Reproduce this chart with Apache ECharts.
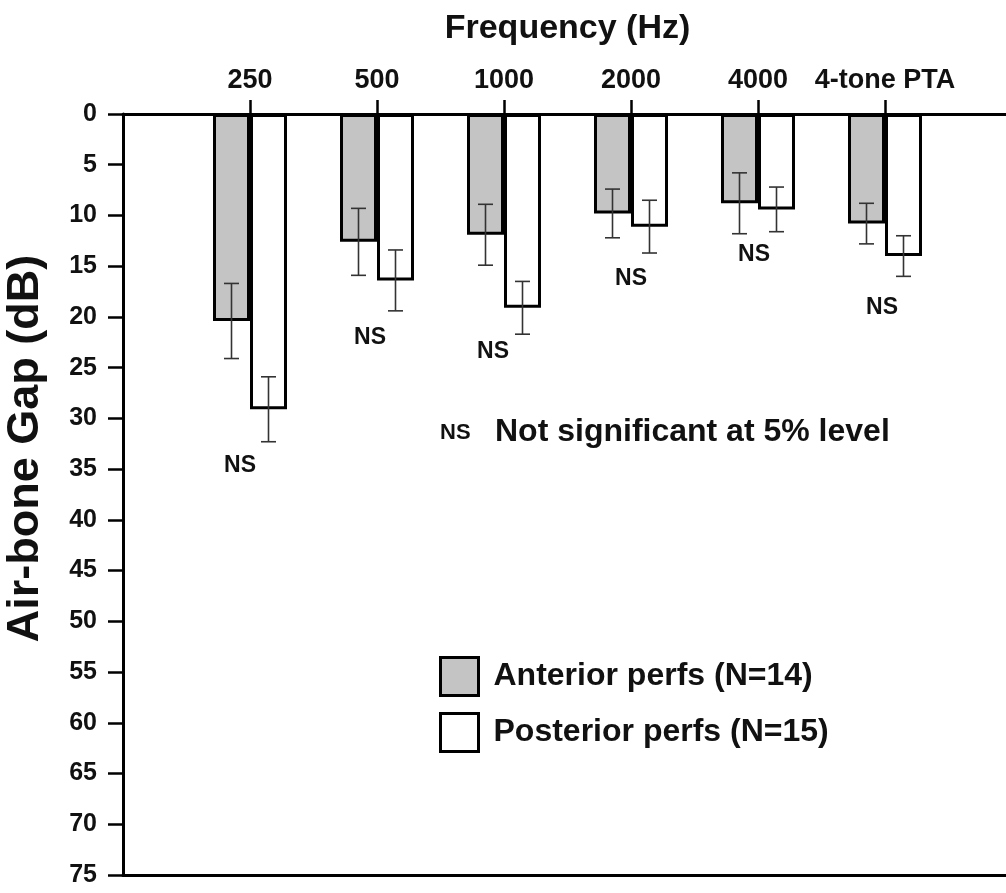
<!DOCTYPE html>
<html>
<head>
<meta charset="utf-8">
<script src="https://cdn.jsdelivr.net/npm/echarts@6/dist/echarts.min.js"></script>
<style>
  html, body { margin: 0; padding: 0; background: #fff; }
  #chart { width: 1006px; height: 893px; }
</style>
</head>
<body>
<div id="chart"></div>
<script>
// ---- data ----
const categories = ['', '250', '500', '1000', '2000', '4000', '4-tone PTA', ''];
const anteriorMean = ['-', 20.4, 12.6, 11.9, 9.8, 8.8, 10.8, '-'];
const anteriorSD   = ['-', 3.7, 3.3, 3.0, 2.4, 3.0, 2.0, '-'];
const posteriorMean = ['-', 29.1, 16.4, 19.1, 11.1, 9.4, 14.0, '-'];
const posteriorSD   = ['-', 3.2, 3.0, 2.6, 2.6, 2.2, 2.0, '-'];
const nsLevel = ['-', 34.7, 22.0, 23.4, 16.2, 13.9, 19.1, '-'];
const yTicks = { min: 0, max: 75, interval: 5 };
const seriesNames = ['Anterior perfs (N=14)', 'Posterior perfs (N=15)'];

// ---- style ----
const FONT = '"Liberation Sans", Arial, sans-serif';
const BAR_W = 37;
const nsDx = [0, -10, -7, -11, 0, -4, -3, 0];

function errorSeries(means, sds, side) {
  const data = [];
  for (let i = 0; i < means.length; i++) {
    if (means[i] === '-') continue;
    data.push([i, means[i], sds[i]]);
  }
  return {
    type: 'custom',
    xAxisIndex: 0,
    yAxisIndex: 0,
    z: 5,
    silent: true,
    data: data,
    renderItem: function (params, api) {
      const i = api.value(0), m = api.value(1), s = api.value(2);
      const top = api.coord([i, m - s]);
      const bot = api.coord([i, m + s]);
      const x = top[0] + side * BAR_W / 2;
      const cap = 7.5;
      const st = { stroke: '#333', lineWidth: 1.6 };
      return {
        type: 'group',
        children: [
          { type: 'line', shape: { x1: x, y1: top[1], x2: x, y2: bot[1] }, style: st },
          { type: 'line', shape: { x1: x - cap, y1: top[1], x2: x + cap, y2: top[1] }, style: st },
          { type: 'line', shape: { x1: x - cap, y1: bot[1], x2: x + cap, y2: bot[1] }, style: st }
        ]
      };
    }
  };
}

const nsData = [];
for (let i = 0; i < nsLevel.length; i++) {
  if (nsLevel[i] !== '-') nsData.push([i, nsLevel[i]]);
}

const chart = echarts.init(document.getElementById('chart'));
chart.setOption({
  animation: false,
  backgroundColor: '#fff',
  grid: { left: 123, top: 114, bottom: 18, width: 889, containLabel: false, outerBoundsMode: 'none' },
  xAxis: [{
    type: 'category',
    position: 'top',
    boundaryGap: false,
    data: categories,
    name: 'Frequency (Hz)',
    nameLocation: 'middle',
    nameGap: 68,
    nameTextStyle: { fontFamily: FONT, fontWeight: 'bold', fontSize: 34, color: '#111' },
    axisLine: { lineStyle: { color: '#000', width: 3 } },
    axisTick: {
      length: 14,
      lineStyle: { color: '#000', width: 2.5 },
      interval: function (i) { return i > 0 && i < categories.length - 1; }
    },
    axisLabel: {
      interval: 0,
      margin: 20,
      fontFamily: FONT, fontWeight: 'bold', fontSize: 27, color: '#111'
    },
    splitLine: { show: false }
  }, {
    type: 'category',
    position: 'bottom',
    boundaryGap: false,
    data: categories,
    axisLine: { lineStyle: { color: '#000', width: 3 } },
    axisTick: { show: false },
    axisLabel: { show: false },
    splitLine: { show: false }
  }],
  yAxis: {
    type: 'value',
    inverse: true,
    min: yTicks.min,
    max: yTicks.max,
    interval: yTicks.interval,
    name: 'Air-bone Gap (dB)',
    nameLocation: 'middle',
    nameGap: 75,
    nameTextStyle: {
      fontFamily: FONT, fontWeight: 'bold', fontSize: 45, color: '#111',
      padding: [0, 0, 0, 92]
    },
    axisLine: { show: true, lineStyle: { color: '#000', width: 3 } },
    axisTick: { show: true, length: 15, lineStyle: { color: '#000', width: 2.5 } },
    axisLabel: { margin: 26, fontFamily: FONT, fontWeight: 'bold', fontSize: 25, color: '#111' },
    splitLine: { show: false }
  },
  legend: {
    orient: 'vertical',
    left: 434,
    top: 651,
    itemWidth: 38,
    itemHeight: 38,
    itemGap: 15,
    icon: 'rect',
    selectedMode: false,
    itemStyle: { borderColor: '#000', borderWidth: 3 },
    textStyle: { fontFamily: FONT, fontWeight: 'bold', fontSize: 32, color: '#111', padding: [0, 0, 0, 10] },
    data: seriesNames
  },
  graphic: [
    { type: 'text', left: 440, top: 422, style: { text: 'NS', font: 'bold 22px ' + FONT, fill: '#111' } },
    { type: 'text', left: 495, top: 416, style: { text: 'Not significant at 5% level', font: 'bold 32px ' + FONT, fill: '#111' } }
  ],
  series: [
    {
      name: seriesNames[0],
      type: 'bar',
      barWidth: BAR_W,
      barGap: '0%',
      data: anteriorMean,
      itemStyle: { color: '#c4c4c4', borderColor: '#000', borderWidth: 3 }
    },
    {
      name: seriesNames[1],
      type: 'bar',
      barWidth: BAR_W,
      barGap: '0%',
      data: posteriorMean,
      itemStyle: { color: '#ffffff', borderColor: '#000', borderWidth: 3 }
    },
    errorSeries(anteriorMean, anteriorSD, -1),
    errorSeries(posteriorMean, posteriorSD, 1),
    {
      type: 'custom',
      silent: true,
      z: 6,
      data: nsData,
      renderItem: function (params, api) {
        const i = api.value(0);
        const p = api.coord([i, api.value(1)]);
        return {
          type: 'text',
          x: p[0] + nsDx[i],
          y: p[1],
          style: {
            text: 'NS', font: 'bold 23px ' + FONT, fill: '#111',
            align: 'center', verticalAlign: 'middle'
          }
        };
      }
    }
  ]
});
</script>
</body>
</html>
